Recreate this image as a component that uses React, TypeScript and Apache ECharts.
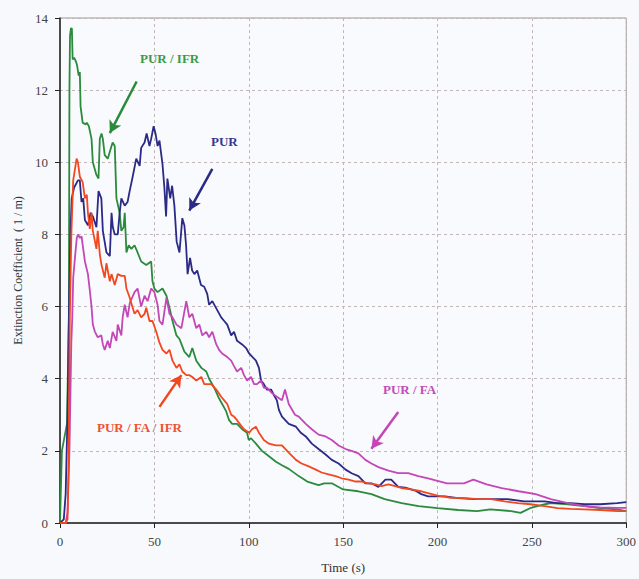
import React, { useEffect, useRef } from "react";
import * as echarts from "echarts";

const xTicks = { min: 0, max: 300, interval: 50 };
const yTicks = { min: 0, max: 14, interval: 2 };

const seriesNames = ["PUR / IFR", "PUR", "PUR / FA", "PUR / FA / IFR"];

// PUR / IFR  (green)
const purIfr: number[][] = [
  [0, 0], [1, 2.0], [3.7, 2.75], [4.7, 5.7], [5.0, 12.0], [5.3, 13.5], [5.8, 13.72], [6.3, 13.7], [6.7, 12.85],
  [7.5, 12.9], [8.4, 12.8], [9.0, 12.7], [9.9, 12.4], [10.5, 12.5], [10.9, 11.55], [12, 11.1], [13.7, 11.05],
  [14.2, 11.1], [15.3, 11.0], [16.7, 10.65], [17.4, 10.0], [19.3, 9.65], [20.4, 9.55], [21.1, 10.65], [22, 10.8],
  [22.7, 10.65], [23.7, 10.2], [25.3, 10.1], [27.3, 10.45], [27.9, 10.55], [29, 10.45], [29.9, 9.0], [31.6, 8.6],
  [32.5, 8.1], [33.7, 8.2], [34.3, 8.6], [35.2, 7.5], [36.4, 7.7], [37.8, 7.6], [39.5, 7.7], [41.1, 7.5],
  [43, 7.25], [45.7, 7.15], [48.3, 7.25], [49, 6.7], [50, 6.5], [51.7, 6.4], [54.3, 6.5], [56.4, 6.3], [58, 5.97],
  [59.6, 5.6], [61.7, 5.2], [63.3, 5.1], [65.9, 4.75], [68.5, 4.6], [70.1, 4.85], [72.2, 4.5], [74.9, 4.3],
  [77.5, 4.2], [79, 4.0], [81.7, 3.75], [84.3, 3.45], [88, 3.1], [89.6, 2.85], [91.2, 2.75], [93.8, 2.75],
  [96.5, 2.6], [99.1, 2.5], [100, 2.3], [101.2, 2.35], [103.8, 2.2], [107, 2.0], [110.7, 1.85], [114.4, 1.7],
  [117.6, 1.6], [121.2, 1.5], [126.5, 1.3], [131, 1.15], [137, 1.05], [140, 1.1], [144, 1.1], [150, 0.93],
  [158, 0.88], [165, 0.8], [172, 0.66], [181, 0.55], [190, 0.47], [200, 0.41], [211, 0.36], [221, 0.33],
  [228, 0.38], [239, 0.33], [244, 0.28], [249, 0.41], [257, 0.52], [260, 0.55], [269, 0.52], [278, 0.47],
  [286, 0.41], [295, 0.38], [300, 0.33],
];

// PUR (dark blue)
const pur: number[][] = [
  [0, 0], [2, 0.1], [3, 0.8], [4, 3.0], [4.8, 6.0], [5.5, 8.0], [6.2, 9.0], [7.5, 9.3], [9.5, 9.5], [10.5, 9.5],
  [11.4, 8.9], [12.3, 9.0], [13.2, 8.4], [14.8, 8.25], [16.2, 8.6], [17.4, 8.5], [19.3, 8.2], [20.4, 9.2],
  [21.9, 9.0], [22.7, 8.1], [24.6, 7.5], [26.4, 7.4], [27.3, 8.6], [28, 8.2], [29, 8.0], [30.6, 8.0], [31.6, 8.6],
  [32.5, 9.0], [34.3, 8.8], [35.8, 8.9], [36.9, 9.2], [38.5, 9.6], [40.4, 10.1], [42.2, 9.9], [43, 10.4],
  [44.8, 10.55], [45.9, 10.8], [47.4, 10.45], [48.3, 10.65], [49.6, 11.0], [50.6, 10.8], [51.7, 10.45],
  [52.7, 10.6], [54.3, 9.95], [55.3, 9.3], [56.2, 8.5], [56.9, 9.55], [58.4, 9.0], [59.4, 9.35], [60.6, 8.8],
  [61.8, 7.8], [63.3, 7.5], [64.8, 8.45], [65.9, 8.25], [66.8, 7.7], [67.6, 6.9], [68.9, 7.35], [70, 7.0],
  [71.2, 6.9], [72.7, 7.0], [74.7, 6.6], [76.4, 6.55], [78, 6.35], [79, 6.05], [80.7, 6.15], [82.8, 5.95],
  [85.4, 5.7], [87, 5.6], [88.6, 5.5], [90.7, 5.2], [92.2, 5.3], [93.8, 5.05], [96.5, 4.95], [98.6, 4.85],
  [100.2, 4.7], [103.8, 4.5], [105.4, 4.3], [106.5, 3.95], [108, 3.85], [109.6, 3.7], [111.8, 3.7],
  [113.3, 3.55], [114.9, 3.4], [116, 3.13], [117.6, 2.95], [121.2, 2.75], [125, 2.67], [127.6, 2.5],
  [130.2, 2.4], [133.4, 2.2], [137, 2.05], [140.7, 1.9], [144, 1.75], [147.6, 1.65], [151.3, 1.48],
  [154.5, 1.38], [158.1, 1.3], [161.8, 1.1], [165, 1.1], [168.7, 1.0], [172.4, 1.2], [175.5, 1.2],
  [179.2, 1.0], [182.9, 0.98], [188.2, 0.9], [191.4, 0.8], [195, 0.74], [204, 0.74], [210.9, 0.69],
  [219.8, 0.66], [228.3, 0.66], [237, 0.66], [246, 0.6], [256.7, 0.6], [263.6, 0.55], [270.4, 0.55],
  [277.8, 0.52], [286.2, 0.52], [295.2, 0.55], [300, 0.58],
];

// PUR / FA (magenta)
const purFa: number[][] = [
  [0, 0], [3, 0], [4, 0.3], [5, 2.0], [6, 5.0], [6.5, 5.7], [7, 6.8], [8, 7.4], [8.9, 7.9], [9.5, 8.0],
  [10.6, 7.9], [11.4, 7.95], [12.3, 7.6], [13.2, 7.25], [14.8, 6.9], [15.8, 6.45], [16.7, 6.0], [17.4, 5.5],
  [18.5, 5.3], [20, 5.15], [21.9, 5.2], [22.7, 4.95], [23.7, 4.8], [25.3, 5.05], [26.4, 4.85], [27.9, 5.3],
  [29.9, 5.05], [30.6, 5.5], [32.5, 5.2], [33.2, 5.7], [34.3, 6.05], [35.8, 5.7], [37, 6.1], [39.5, 6.4],
  [41.1, 6.5], [43, 6.0], [44.8, 6.3], [46.4, 6.15], [48.3, 6.5], [50, 6.4], [51.7, 6.05], [52.7, 5.6],
  [54.3, 5.5], [56.4, 6.25], [58, 5.8], [59.6, 5.7], [61.7, 5.5], [64.3, 5.4], [66.9, 6.15], [68.5, 5.7],
  [70.1, 5.8], [72.2, 5.4], [73.8, 5.5], [75.4, 5.2], [77.5, 5.3], [79, 5.15], [80.7, 5.3], [82.8, 4.95],
  [84.3, 4.8], [85.9, 4.7], [88.6, 4.6], [90.7, 4.5], [92.2, 4.35], [93.8, 4.2], [96, 4.3], [97.5, 4.1],
  [99.1, 3.95], [101.2, 4.05], [102.8, 3.85], [104.4, 3.85], [106.5, 3.95], [108, 3.75], [109.6, 3.75],
  [112.3, 3.6], [114.9, 3.5], [117.6, 3.4], [119.2, 3.7], [121.2, 3.3], [124.5, 3.0], [126.5, 2.95],
  [130.2, 2.75], [133.4, 2.6], [137, 2.45], [140.7, 2.4], [144, 2.3], [147.6, 2.15], [151.3, 2.05],
  [154.5, 2.0], [158.1, 1.93], [161.8, 1.75], [165, 1.65], [168.7, 1.55], [174, 1.45], [179.2, 1.38],
  [184.5, 1.38], [189.8, 1.3], [195, 1.24], [205, 1.1], [214, 1.1], [219, 1.2], [226, 1.07], [234, 0.97],
  [243, 0.88], [252, 0.8], [260, 0.66], [269, 0.55], [278, 0.47], [286, 0.43], [295, 0.42], [300, 0.42],
];

// PUR / FA / IFR (red)
const purFaIfr: number[][] = [
  [0, 0], [3, 0], [4, 0.1], [4.5, 1.5], [5.2, 5.7], [6, 8.0], [7, 9.5], [8.8, 10.1], [9.5, 10.0], [10.5, 9.6],
  [12, 9.45], [13.2, 9.0], [14.2, 9.1], [14.8, 8.6], [15.8, 8.15], [16.7, 8.6], [17.4, 8.1], [19.3, 7.6],
  [20, 8.1], [21.1, 7.45], [22, 7.15], [23.7, 6.8], [24.6, 7.2], [26.4, 6.7], [27.3, 6.9], [29, 6.6],
  [30.6, 6.9], [32.5, 6.85], [34.3, 6.85], [35.2, 6.5], [36.9, 6.25], [38.5, 5.97], [39.5, 5.8], [41.1, 5.9],
  [43, 5.7], [44.8, 5.8], [45.7, 5.97], [47.4, 5.6], [49, 5.6], [51, 5.3], [52.7, 5.0], [54.3, 4.8],
  [56.4, 4.7], [58, 4.8], [59.6, 4.5], [61.7, 4.3], [63.3, 4.4], [64.8, 4.2], [66.9, 4.1], [68.5, 4.1],
  [70.1, 4.05], [72.2, 3.95], [74.9, 4.05], [76.4, 3.85], [78, 3.85], [80.1, 3.85], [82.8, 3.7], [85.4, 3.5],
  [87, 3.4], [88.6, 3.3], [90.7, 3.0], [92.2, 2.95], [93.8, 2.85], [95.9, 2.7], [97.5, 2.6], [100.2, 2.5],
  [101.7, 2.6], [103.8, 2.67], [105.4, 2.5], [108, 2.3], [110.7, 2.2], [114.4, 2.15], [117.6, 2.15],
  [121.2, 1.95], [125, 1.75], [128, 1.65], [131.8, 1.57], [135.5, 1.48], [138.6, 1.4], [142.3, 1.35],
  [146, 1.3], [149.2, 1.24], [152.9, 1.2], [156.6, 1.15], [159.7, 1.15], [163.4, 1.1], [167.1, 1.07],
  [170.3, 1.02], [174, 1.07], [177.6, 1.02], [180.8, 0.97], [186, 0.93], [191.4, 0.88], [195, 0.83],
  [200, 0.76], [207, 0.7], [214.5, 0.69], [221.4, 0.66], [228.3, 0.66], [235.6, 0.6], [242.5, 0.55],
  [249.3, 0.52], [256.7, 0.47], [263.6, 0.41], [270.4, 0.39], [277.8, 0.38], [286.2, 0.36], [295.2, 0.33],
  [300, 0.33],
];

// annotation arrows (data coordinates: start -> head)
const arrowIfr = [[40.6, 12.24], [26.4, 10.81]];
const arrowPur = [[80.7, 9.82], [68.5, 8.66]];
const arrowFa = [[179.2, 3.08], [165, 2.06]];
const arrowFaIfr = [[52.7, 3.22], [64.3, 4.1]];

const colors = ["#2b8a3c", "#2b2a86", "#c447b8", "#f2481f"];
const FONT = "'Liberation Serif', 'DejaVu Serif', serif";

export default function App() {
  const ref = useRef<HTMLDivElement>(null);
  useEffect(() => {
    if (!ref.current) return;
    const chart = echarts.init(ref.current, undefined, { renderer: "svg" });
    const mkArrow = (a: number[][], color: string) => ({
      silent: true,
      symbol: ["none", "arrow"],
      symbolSize: [10, 12],
      label: { show: false },
      lineStyle: { color, width: 2.5, type: "solid" },
      data: [[{ coord: a[0] }, { coord: a[1] }]],
    });
    const datasets = [purIfr, pur, purFa, purFaIfr];
    const arrows = [arrowIfr, arrowPur, arrowFa, arrowFaIfr];
    chart.setOption({
      animation: false,
      backgroundColor: "#f8f9fc",
      textStyle: { fontFamily: FONT },
      grid: {
        left: 60,
        right: 10,
        top: 18,
        bottom: 52,
        show: true,
        borderColor: "#9a9a9a",
        borderWidth: 1,
        backgroundColor: "#f9fafd",
      },
      xAxis: {
        type: "value",
        min: xTicks.min,
        max: xTicks.max,
        interval: xTicks.interval,
        name: "Time (s)",
        nameLocation: "middle",
        nameGap: 38,
        nameTextStyle: { fontFamily: FONT, fontSize: 13, color: "#333" },
        axisLine: { show: true, lineStyle: { color: "#222", width: 1.5 } },
        axisTick: { show: true, length: 5, lineStyle: { color: "#222" } },
        axisLabel: { fontFamily: FONT, fontSize: 13, color: "#444", margin: 12 },
        splitLine: { show: true, lineStyle: { color: "#c2b6b6", type: [3, 3], width: 1 } },
      },
      yAxis: {
        type: "value",
        min: yTicks.min,
        max: yTicks.max,
        interval: yTicks.interval,
        name: "Extinction Coefficient  ( 1 / m)",
        nameLocation: "middle",
        nameGap: 36,
        nameTextStyle: { fontFamily: FONT, fontSize: 12, color: "#333" },
        axisLine: { show: true, lineStyle: { color: "#222", width: 1.5 } },
        axisTick: { show: true, length: 5, lineStyle: { color: "#222" } },
        axisLabel: { fontFamily: FONT, fontSize: 13, color: "#444", margin: 12 },
        splitLine: { show: true, lineStyle: { color: "#c2b6b6", type: [3, 3], width: 1 } },
      },
      series: datasets.map((d, i) => ({
        name: seriesNames[i],
        type: "line",
        data: d,
        showSymbol: false,
        symbol: "none",
        lineStyle: { color: colors[i], width: 1.8 },
        z: 2 + i,
        markLine: mkArrow(arrows[i], colors[i]),
      })),
      graphic: [
        { type: "text", left: 140, top: 52, style: { text: "PUR / IFR", fill: "#3a9a4a", font: `bold 13px ${FONT}` } },
        { type: "text", left: 211, top: 135, style: { text: "PUR", fill: "#363690", font: `bold 13px ${FONT}` } },
        { type: "text", left: 383, top: 383, style: { text: "PUR / FA", fill: "#c34cb8", font: `bold 13px ${FONT}` } },
        { type: "text", left: 97, top: 421, style: { text: "PUR / FA / IFR", fill: "#f05230", font: `bold 13px ${FONT}` } },
      ],
    });
    return () => chart.dispose();
  }, []);
  return (
    <div
      ref={ref}
      style={{ position: "fixed", left: 0, top: 0, width: 639, height: 579 }}
    />
  );
}
